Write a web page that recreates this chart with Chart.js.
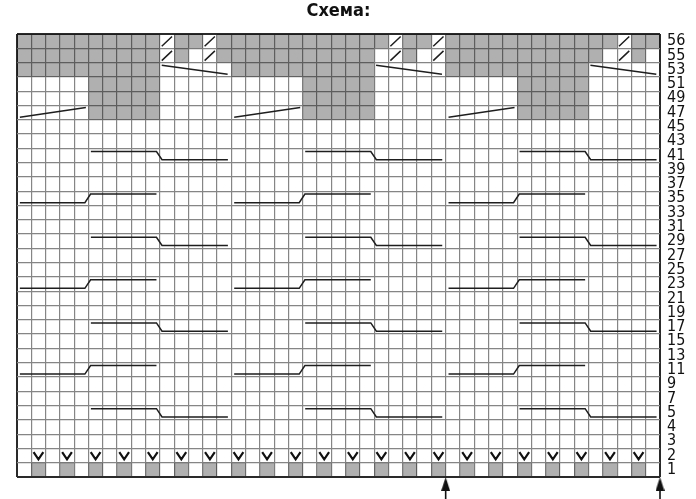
<!DOCTYPE html>
<html><head><meta charset="utf-8">
<script src="https://cdn.jsdelivr.net/npm/chart.js@4.4.1/dist/chart.umd.min.js"></script>
<style>html,body{margin:0;padding:0;background:#fff}#wrap{width:696px;height:499px;position:relative}</style>
</head><body><div id="wrap"><canvas id="c"></canvas></div>
<script>
// ---------- chart content ----------
const titleText = 'Схема:';
const rowLabels = ['56','55','53','51','49','47','45','43','41','39','37','35','33','31','29','27','25','23','21','19','17','15','13','11','9','7','5','4','3','2','1'];
const columnCount = 45;
const repeatOffsets = [0, 15, 30];

// cell symbols, three 15-stitch segments per row: G = grey, S = slash, V = slipped stitch, . = plain
const row56 = ['GGGGGGGGGGSGGSG', 'GGGGGGGGGGGSGGS', 'GGGGGGGGGGGGSGG'];
const row55 = ['GGGGGGGGGGSG.SG', 'GGGGGGGGGG.SG.S', 'GGGGGGGGGGG.SG.'];
const row53 = ['GGGGGGGGGG.....', 'GGGGGGGGGG.....', 'GGGGGGGGGG.....'];
const row51 = ['.....GGGGG.....', '.....GGGGG.....', '.....GGGGG.....'];
const row49 = ['.....GGGGG.....', '.....GGGGG.....', '.....GGGGG.....'];
const row47 = ['.....GGGGG.....', '.....GGGGG.....', '.....GGGGG.....'];
const row2  = ['.V.V.V.V.V.V.V.', 'V.V.V.V.V.V.V.V', '.V.V.V.V.V.V.V.'];
const row1  = ['.G.G.G.G.G.G.G.', 'G.G.G.G.G.G.G.G', '.G.G.G.G.G.G.G.'];
const cellRows = [['56', row56], ['55', row55], ['53', row53], ['51', row51], ['49', row49], ['47', row47], ['2', row2], ['1', row1]];

// cable lines inside one 15-stitch repeat: [first column, step column, last column]
const stepDownRows = ['41', '29', '17', '5'];
const stepDownCols = [6, 10, 15];
const stepUpRows = ['35', '23', '11'];
const stepUpCols = [1, 5, 10];
const slantUpRow = '47';
const slantUpCols = [1, 5];
const slantDownRow = '53';
const slantDownCols = [11, 15];

// repeat arrows below the chart (column boundaries)
const arrowCols = [30, 45];

// ---------- build datasets ----------
const nRows = rowLabels.length;
const rowIndex = l => nRows - 1 - rowLabels.indexOf(l);

const grayCells = [], slashPts = [], veePts = [];
for (const [label, segs] of cellRows) {
  const r = rowIndex(label);
  const s = segs.join('');
  for (let c = 0; c < s.length; c++) {
    const ch = s[c];
    if (ch === 'G') grayCells.push({x: c + 0.5, y: [r, r + 1]});
    else if (ch === 'S') slashPts.push({x: c + 0.13, y: r + 0.14}, {x: c + 0.85, y: r + 0.82}, {x: c + 0.85, y: null});
    else if (ch === 'V') veePts.push({x: c + 0.16, y: r + 0.74}, {x: c + 0.5, y: r + 0.24}, {x: c + 0.84, y: r + 0.74}, {x: c + 0.84, y: null});
  }
}

const cablePts = [];
for (const o of repeatOffsets) {
  for (const l of stepDownRows) {
    const r = rowIndex(l); const [c0, cs, c1] = stepDownCols;
    cablePts.push({x: o + c0 - 1 + 0.17, y: r + 0.78}, {x: o + cs - 0.24, y: r + 0.78},
                  {x: o + cs + 0.15, y: r + 0.2}, {x: o + c1 - 0.24, y: r + 0.2}, {x: o + c1, y: null});
  }
  for (const l of stepUpRows) {
    const r = rowIndex(l); const [c0, cs, c1] = stepUpCols;
    cablePts.push({x: o + c0 - 1 + 0.2, y: r + 0.2}, {x: o + cs - 0.25, y: r + 0.2},
                  {x: o + cs + 0.15, y: r + 0.8}, {x: o + c1 - 0.24, y: r + 0.8}, {x: o + c1, y: null});
  }
  {
    const r = rowIndex(slantUpRow); const [c0, c1] = slantUpCols;
    cablePts.push({x: o + c0 - 1 + 0.2, y: r + 0.17}, {x: o + c1 - 0.18, y: r + 0.85}, {x: o + c1, y: null});
  }
  {
    const r = rowIndex(slantDownRow); const [c0, c1] = slantDownCols;
    cablePts.push({x: o + c0 - 1 + 0.13, y: r + 0.81}, {x: o + c1 - 0.26, y: r + 0.18}, {x: o + c1, y: null});
  }
}

// arrow head image (style)
const head = document.createElement('canvas');
head.width = 9; head.height = 14;
{
  const g = head.getContext('2d');
  g.fillStyle = '#111';
  g.beginPath(); g.moveTo(4.5, 0); g.lineTo(9, 14); g.lineTo(0, 14); g.closePath(); g.fill();
}
const arrowSets = arrowCols.map(c => ({
  type: 'line',
  data: [{x: c, y: -1.6}, {x: c, y: -0.49}],
  borderColor: '#111', borderWidth: 1.6,
  pointStyle: head, pointRadius: [0, 10], pointBorderWidth: 0,
  clip: false, order: 0
}));

const lineStyle = {type: 'line', pointRadius: 0, spanGaps: false, tension: 0, fill: false, borderCapStyle: 'butt'};

const edgeColor = '#2a2a2a', lineColor = '#858585';
const FONT_NARROW = "'Liberation Sans Narrow', 'Arial Narrow', 'DejaVu Sans Condensed', sans-serif";

new Chart(document.getElementById('c'), {
  type: 'bar',
  data: {
    datasets: [
      {type: 'bar', data: grayCells, backgroundColor: 'rgba(0,0,0,0.31)', borderWidth: 0,
       barPercentage: 1, categoryPercentage: 1, grouped: false, inflateAmount: 0, order: 5},
      {...lineStyle, data: cablePts, borderColor: '#1e1e1e', borderWidth: 1.5, order: 3},
      {...lineStyle, data: slashPts, borderColor: '#1e1e1e', borderWidth: 1.5, order: 3},
      {...lineStyle, data: veePts, borderColor: '#111', borderWidth: 2.2, borderJoinStyle: 'miter', order: 3},
      ...arrowSets
    ]
  },
  options: {
    responsive: true, maintainAspectRatio: false, animation: false, events: [],
    layout: {padding: {left: 17, right: 0, top: 0, bottom: 22}},
    plugins: {
      legend: {display: false}, tooltip: {enabled: false},
      title: {display: true, text: titleText, fullSize: false, color: '#111',
              font: {family: FONT_NARROW, size: 18, weight: 'bold', lineHeight: 1.2},
              padding: {top: 1, bottom: 11.4}}
    },
    scales: {
      x: {type: 'linear', min: 0, max: columnCount, offset: false, position: 'bottom',
          ticks: {display: false, stepSize: 1},
          grid: {offset: false, drawTicks: false,
                 color: c => (c.tick.value === 0 || c.tick.value === columnCount) ? edgeColor : lineColor,
                 lineWidth: c => (c.tick.value === 0 || c.tick.value === columnCount) ? 2 : 1.2},
          border: {display: false},
          afterFit: s => { s.height = 0; }},
      y: {type: 'linear', min: 0, max: nRows, position: 'left',
          ticks: {display: false, stepSize: 1},
          grid: {drawTicks: false,
                 color: c => (c.tick.value === 0 || c.tick.value === nRows) ? edgeColor : lineColor,
                 lineWidth: c => (c.tick.value === 0 || c.tick.value === nRows) ? 2 : 1.2},
          border: {display: false},
          afterFit: s => { s.width = 0; }},
      yr: {type: 'linear', min: 0, max: nRows, position: 'right',
           grid: {display: false, drawTicks: false}, border: {display: false},
           afterBuildTicks: s => { s.ticks = rowLabels.map((l, i) => ({value: nRows - 1 - i + 0.5})); },
           ticks: {autoSkip: false, padding: 7, crossAlign: 'near', color: '#111',
                   font: {family: FONT_NARROW, size: 16},
                   callback: v => rowLabels[nRows - 1 - Math.floor(v)]},
           afterFit: s => { s.width = 36; }}
    }
  }
});
</script>
</body></html>
